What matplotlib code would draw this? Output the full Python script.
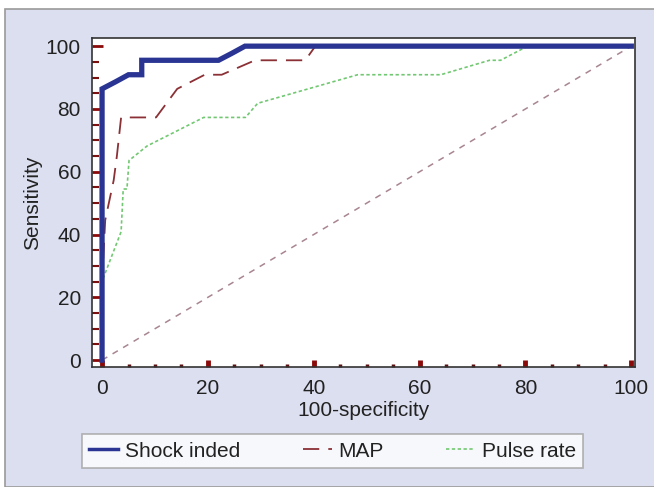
import numpy as np
import matplotlib
matplotlib.use('Agg')
import matplotlib.pyplot as plt
import matplotlib.patches as patches
from matplotlib.ticker import MultipleLocator

plt.rcParams['font.family'] = ['Liberation Sans', 'DejaVu Sans']

# ROC points (x = 100-specificity, y = sensitivity)
shock_x = [0, 0, 2.5, 5, 7.5, 7.5, 22, 24.5, 27, 100]
shock_y = [0, 86.4, 88.6, 90.9, 90.9, 95.5, 95.5, 97.7, 100, 100]

map_x = [0, 0, 0.6, 2.2, 2.8, 3.6, 10.2, 14.2, 19.4, 22.6, 28.9, 38.4, 40.3, 100]
map_y = [0, 25, 44.6, 57.3, 65, 77.3, 77.3, 86.4, 90.9, 90.9, 95.5, 95.5, 100, 100]

pulse_x = [0, 0, 0.5, 3.6, 4.0, 4.7, 5.1, 8.5, 19.2, 27.1, 29.4, 48.3, 64.0, 73.2, 75.3, 80.4, 100]
pulse_y = [0, 25, 27.3, 40.9, 54.5, 54.5, 63.6, 68.2, 77.3, 77.3, 81.8, 90.9, 90.9, 95.5, 95.5, 100, 100]

diag_x = [0, 100]
diag_y = [0, 100]

legend_labels = ['Shock inded', 'MAP', 'Pulse rate']

fig = plt.figure(figsize=(6.54, 4.87), dpi=100)
fig.patch.set_facecolor('white')

# lavender panel behind everything
panel = patches.Rectangle((5 / 654, 0), 1.0, 1 - 9 / 487, transform=fig.transFigure,
                          facecolor='#dcdff0', edgecolor='#9a9a9a', linewidth=1.2, zorder=-10)
fig.patches.append(panel)

ax = fig.add_axes([92 / 654, 120 / 487, 543 / 654, 329 / 487])
ax.set_facecolor('white')

ax.plot(diag_x, diag_y, color='#a88592', lw=1.1, dashes=(4, 4), zorder=2)
l3, = ax.plot(pulse_x, pulse_y, color='#72c872', lw=1.2, dashes=(2, 1.5), zorder=3)
l2, = ax.plot(map_x, map_y, color='#8b3035', lw=1.3, dashes=(9, 5), zorder=4)
l1, = ax.plot(shock_x, shock_y, color='#2a3593', lw=3.8, zorder=5, solid_joinstyle='miter')

ax.set_xlim(-1.9, 100.7)
ax.set_ylim(-2.2, 102.6)

ax.xaxis.set_major_locator(MultipleLocator(20))
ax.xaxis.set_minor_locator(MultipleLocator(5))
ax.yaxis.set_major_locator(MultipleLocator(20))
ax.yaxis.set_minor_locator(MultipleLocator(5))

ax.tick_params(axis='y', which='major', direction='in', length=8, width=2,
               color='#8a0a0a', labelsize=15, pad=8, labelcolor='#222222')
ax.tick_params(axis='y', which='minor', direction='in', length=5, width=1.5, color='#7a1010')
ax.tick_params(axis='x', which='major', direction='in', length=5, width=3.5,
               color='#8a0a0a', labelsize=15, pad=9, labelcolor='#222222')
ax.tick_params(axis='x', which='minor', direction='in', length=2.5, width=2.5, color='#5a1010')

for s in ax.spines.values():
    s.set_color('#333333')
    s.set_linewidth(1.2)

ax.set_xlabel('100-specificity', fontsize=15, color='#222222', labelpad=2)
ax.set_ylabel('Sensitivity', fontsize=15, color='#222222', labelpad=3)

leg = fig.legend([l1, l2, l3], legend_labels, ncol=3, mode='expand',
                 bbox_to_anchor=(82 / 654, 19 / 487, 501 / 654, 33 / 487),
                 loc='lower left', fontsize=15, frameon=True, fancybox=False,
                 handlelength=1.4, handletextpad=0.3, borderaxespad=0,
                 borderpad=0.35, labelcolor='#222222')
leg.get_frame().set_edgecolor('#a0a0a0')
leg.get_frame().set_linewidth(1.2)
leg.legend_handles[0].set_linewidth(2.5)

fig.savefig('out.png', dpi=100)
